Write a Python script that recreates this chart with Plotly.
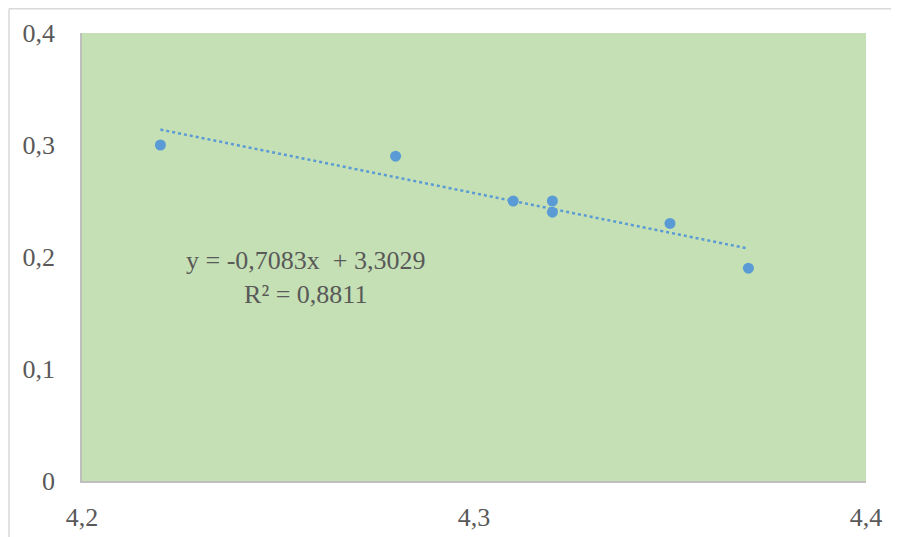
import numpy as np
import plotly.graph_objects as go

x_vals = [4.22, 4.28, 4.31, 4.32, 4.32, 4.35, 4.37]
y_vals = [0.30, 0.29, 0.25, 0.25, 0.24, 0.23, 0.19]
x_ticks = [4.2, 4.3, 4.4]
x_tick_text = ["4,2", "4,3", "4,4"]
y_ticks = [0, 0.1, 0.2, 0.3, 0.4]
y_tick_text = ["0", "0,1", "0,2", "0,3", "0,4"]

slope, intercept = np.polyfit(x_vals, y_vals, 1)
yp = np.polyval([slope, intercept], x_vals)
r2 = 1 - np.sum((np.array(y_vals) - yp) ** 2) / np.sum((np.array(y_vals) - np.mean(y_vals)) ** 2)
tx = [min(x_vals), max(x_vals)]
ty = [slope * v + intercept for v in tx]

def fmt(v):
    return f"{v:.4f}".replace(".", ",")

BLUE = "#5b9bd5"
GRAY = "#595959"
FONT = "Liberation Serif, Times New Roman, DejaVu Serif, serif"
FS = 26

fig = go.Figure()
fig.add_trace(go.Scatter(x=tx, y=ty, mode="lines",
                         line=dict(color=BLUE, width=2.5, dash="dot"),
                         hoverinfo="skip", showlegend=False))
fig.add_trace(go.Scatter(x=x_vals, y=y_vals, mode="markers",
                         marker=dict(color=BLUE, size=11),
                         showlegend=False))

fig.add_annotation(x=4.2571, y=0.182, xref="x", yref="y",
                   text=f"y = {fmt(slope)}x &nbsp;+ {fmt(intercept)}<br>R² = {fmt(r2)}",
                   showarrow=False, align="center",
                   font=dict(family=FONT, size=FS, color=GRAY))

# page has an 8px body margin; figure sized to fit the window
W, H = 883, 529
L, T = 74, 25
pw, ph = 784, 448
R = W - L - pw
B = H - T - ph

def px(xf):
    return (xf - L) / pw

def py(yf):
    return (H - B - yf) / ph

# outer chart-area border (top and left edges visible)
fig.add_shape(type="line", xref="paper", yref="paper",
              x0=px(1), x1=px(W + 2), y0=py(0.75), y1=py(0.75),
              line=dict(color="#d9d9d9", width=1.5), layer="below")
fig.add_shape(type="line", xref="paper", yref="paper",
              x0=px(1), x1=px(1), y0=py(0.75), y1=py(H + 2),
              line=dict(color="#d9d9d9", width=1.5), layer="below")

fig.update_layout(
    width=W, height=H,
    margin=dict(l=L, r=R, t=T, b=B, autoexpand=False),
    paper_bgcolor="white",
    plot_bgcolor="#c5e0b4",
    font=dict(family=FONT, size=FS, color=GRAY),
    xaxis=dict(range=[4.2, 4.4], tickvals=x_ticks, ticktext=x_tick_text,
               showgrid=False, zeroline=False, showline=True, automargin=False,
               linecolor="#bfbfbf", linewidth=1.5, ticks="",
               ticklabelstandoff=12, tickfont=dict(family=FONT, size=FS, color=GRAY)),
    yaxis=dict(range=[0, 0.4], tickvals=y_ticks, ticktext=y_tick_text,
               showgrid=False, zeroline=False, showline=True, automargin=False,
               linecolor="#bfbfbf", linewidth=1.5, ticks="",
               ticklabelstandoff=20, tickfont=dict(family=FONT, size=FS, color=GRAY)),
)

fig.write_html("out.html")
